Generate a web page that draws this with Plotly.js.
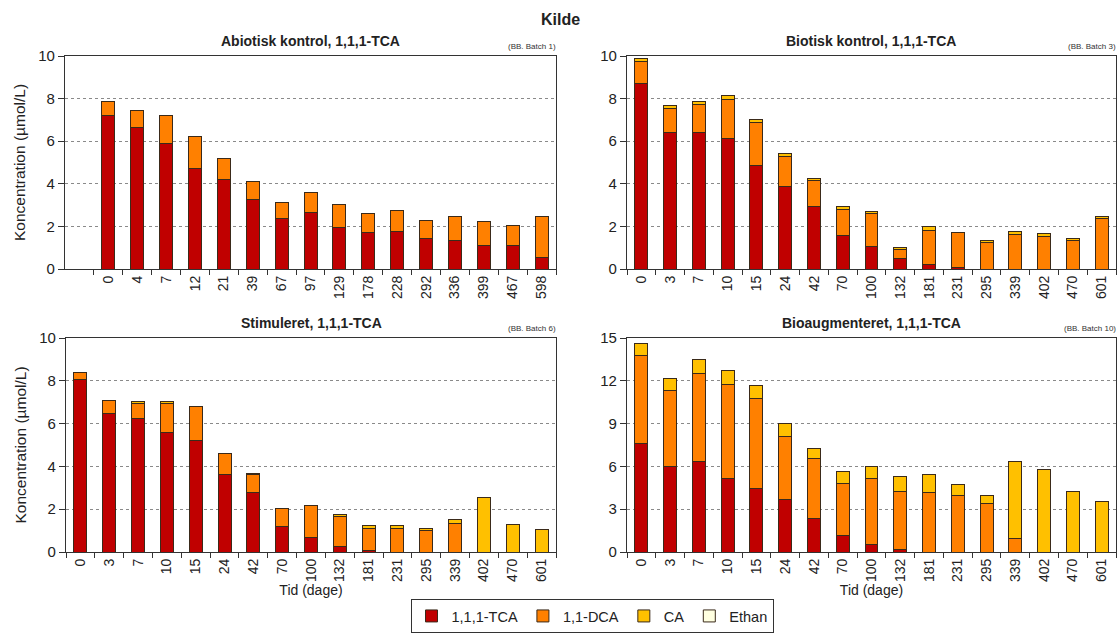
<!DOCTYPE html>
<html><head><meta charset="utf-8">
<script src="https://cdn.plot.ly/plotly-3.0.1.min.js"></script>
<style>html,body{margin:0;padding:0;background:#fff}#chart{width:1120px;height:635px}</style>
</head><body><div id="chart"></div>
<script>
// ---- Data ----
const seriesNames = ["1,1,1-TCA", "1,1-DCA", "CA", "Ethan"];
const seriesColors = ["#C00000", "#FF8000", "#FFC000", "#FFFFE0"];

const panelTitles = ["Abiotisk kontrol, 1,1,1-TCA", "Biotisk kontrol, 1,1,1-TCA", "Stimuleret, 1,1,1-TCA", "Bioaugmenteret, 1,1,1-TCA"];
const batchLabels = ["(BB. Batch 1)", "(BB. Batch 3)", "(BB. Batch 6)", "(BB. Batch 10)"];

const daysAbio = ["0","4","7","12","21","39","67","97","129","178","228","292","336","399","467","598"];
const daysOther = ["0","3","7","10","15","24","42","70","100","132","181","231","295","339","402","470","601"];

const abioTCA = [7.2,6.62,5.87,4.74,4.2,3.28,2.38,2.64,1.95,1.71,1.76,1.44,1.35,1.11,1.11,0.52];
const abioDCA = [0.66,0.82,1.36,1.46,0.98,0.81,0.74,0.95,1.06,0.88,1.0,0.82,1.11,1.1,0.93,1.94];
const abioCA  = [null,null,null,null,null,null,null,null,null,null,null,null,null,null,null,null];
const abioEth = [null,null,null,null,null,null,null,null,null,null,null,null,null,null,null,null];

const bioTCA = [8.69,6.42,6.42,6.13,4.88,3.89,2.92,1.57,1.04,0.49,0.2,0.05,null,null,null,null,null];
const bioDCA = [1.05,1.13,1.31,1.82,2.01,1.38,1.24,1.21,1.55,0.44,1.6,1.66,1.25,1.62,1.51,1.33,2.35];
const bioCA  = [0.12,0.14,0.14,0.18,0.12,0.17,0.1,0.15,0.09,0.09,0.18,null,0.08,0.15,0.17,0.1,0.1];
const bioEth = [null,null,null,null,null,null,null,null,null,null,null,null,null,null,null,null,null];

const stimTCA = [8.07,6.49,6.24,5.58,5.21,3.62,2.76,1.17,0.67,0.25,0.09,null,null,null,null,null,null];
const stimDCA = [0.34,0.61,0.7,1.36,1.59,1.0,0.84,0.87,1.48,1.4,1.03,1.12,1.0,1.34,null,null,null];
const stimCA  = [null,null,0.1,0.1,null,null,0.08,null,null,0.11,0.1,0.1,0.09,0.19,2.57,1.28,1.03];
const stimEth = [null,null,null,null,null,null,null,null,null,null,null,null,null,null,null,null,null];

const augTCA = [7.63,5.99,6.34,5.17,4.47,3.67,2.36,1.19,0.56,0.19,null,null,null,null,null,null,null];
const augDCA = [6.17,5.31,6.17,6.55,6.31,4.42,4.17,3.61,4.59,4.07,4.16,3.98,3.37,0.96,null,null,null];
const augCA  = [0.8,0.86,1.01,0.98,0.89,0.91,0.7,0.84,0.86,1.0,1.29,0.75,0.61,5.36,5.78,4.23,3.53];
const augEth = [null,null,null,null,null,null,null,null,null,null,null,null,null,null,null,null,null];

// ---- Build ----
const FONT = "Liberation Sans, Arial, sans-serif";
const TXT = "#222";
const panels = [
  {x: daysAbio, ys: [abioTCA, abioDCA, abioCA, abioEth], xa: "x", ya: "y"},
  {x: daysOther, ys: [bioTCA, bioDCA, bioCA, bioEth], xa: "x2", ya: "y2"},
  {x: daysOther, ys: [stimTCA, stimDCA, stimCA, stimEth], xa: "x3", ya: "y3"},
  {x: daysOther, ys: [augTCA, augDCA, augCA, augEth], xa: "x4", ya: "y4"}
];
const traces = [];
panels.forEach((p, pi) => {
  p.ys.forEach((vals, si) => {
    traces.push({
      type: "bar", x: p.x, y: vals, xaxis: p.xa, yaxis: p.ya,
      name: seriesNames[si], legendgroup: seriesNames[si], showlegend: pi === 0,
      marker: {color: seriesColors[si], line: {color: "#3a2a1a", width: 1}},
      hoverinfo: "x+y+name"
    });
  });
});

const W = 1120, H = 635;
const dx = (a, b) => [a / W, b / W];
const dy = (top, bottom) => [(H - bottom) / H, (H - top) / H];
const xCommon = {
  type: "category", tickson: "boundaries", ticks: "outside", ticklen: 5, tickcolor: "#333",
  tickangle: -90, tickfont: {family: FONT, size: 14, color: TXT},
  showline: true, mirror: true, linecolor: "#333", linewidth: 1.2, showgrid: false, fixedrange: true
};
const yCommon = {
  ticks: "outside", ticklen: 6, tickcolor: "#333", tickfont: {family: FONT, size: 15, color: TXT},
  showline: true, mirror: true, linecolor: "#333", linewidth: 1.2,
  showgrid: true, gridcolor: "#8a8a8a", griddash: "dot", gridwidth: 1, zeroline: false, fixedrange: true
};
const yTitle = {text: "Koncentration (µmol/L)", font: {family: FONT, size: 15.5, color: TXT}, standoff: 8};
const xTitle = {text: "Tid (dage)", font: {family: FONT, size: 14, color: TXT}, standoff: 4};

const layout = {
  width: W, height: H, margin: {l: 0, r: 0, t: 0, b: 0},
  paper_bgcolor: "#fff", plot_bgcolor: "#fff",
  barmode: "stack", bargap: 0.55,
  font: {family: FONT, color: TXT},
  showlegend: true,
  legend: {orientation: "h", x: 592 / W, xanchor: "center", y: (H - 616) / H, yanchor: "middle",
           bordercolor: "#333", borderwidth: 1, font: {family: FONT, size: 14.5, color: TXT},
           traceorder: "normal", itemwidth: 30, tracegroupgap: 0},
  xaxis:  Object.assign({}, xCommon, {domain: dx(65, 556), range: [-1.5, 15.5], anchor: "y"}),
  yaxis:  Object.assign({}, yCommon, {domain: dy(56, 269), range: [0, 10], dtick: 2, anchor: "x", title: yTitle}),
  xaxis2: Object.assign({}, xCommon, {domain: dx(627, 1116), range: [-0.5, 16.5], anchor: "y2"}),
  yaxis2: Object.assign({}, yCommon, {domain: dy(56, 269), range: [0, 10], dtick: 2, anchor: "x2"}),
  xaxis3: Object.assign({}, xCommon, {domain: dx(66, 556), range: [-0.5, 16.5], anchor: "y3", title: xTitle}),
  yaxis3: Object.assign({}, yCommon, {domain: dy(338, 552), range: [0, 10], dtick: 2, anchor: "x3", title: yTitle}),
  xaxis4: Object.assign({}, xCommon, {domain: dx(627, 1116), range: [-0.5, 16.5], anchor: "y4", title: xTitle}),
  yaxis4: Object.assign({}, yCommon, {domain: dy(338, 552), range: [0, 15], dtick: 3, anchor: "x4"}),
  annotations: []
};
layout.annotations.push({text: "<b>Kilde</b>", xref: "paper", yref: "paper", x: 0.5, y: (H - 19) / H,
  xanchor: "center", yanchor: "middle", showarrow: false, font: {family: FONT, size: 16, color: TXT}});
const tpos = [
  {cx: 310, r: 558, top: 56}, {cx: 871, r: 1118, top: 56},
  {cx: 311, r: 558, top: 338}, {cx: 871, r: 1118, top: 338}
];
tpos.forEach((t, i) => {
  layout.annotations.push({text: "<b>" + panelTitles[i] + "</b>", xref: "paper", yref: "paper",
    x: t.cx / W, y: (H - (t.top - 15)) / H, xanchor: "center", yanchor: "middle", showarrow: false,
    font: {family: FONT, size: 14, color: TXT}});
  layout.annotations.push({text: batchLabels[i], xref: "paper", yref: "paper",
    x: t.r / W, y: (H - (t.top - 9)) / H, xanchor: "right", yanchor: "middle", showarrow: false,
    font: {family: FONT, size: 8, color: "#333"}});
});
Plotly.newPlot("chart", traces, layout, {staticPlot: false, displayModeBar: false});
</script></body></html>
